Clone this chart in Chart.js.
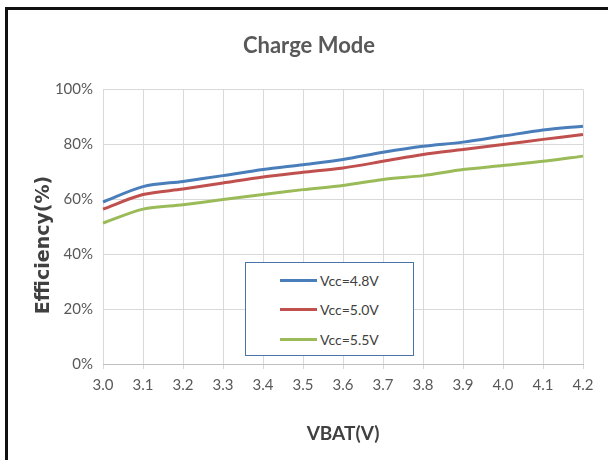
<!DOCTYPE html>
<html>
<head>
<meta charset="utf-8">
<script src="https://cdn.jsdelivr.net/npm/chart.js@4.4.1/dist/chart.umd.min.js"></script>
<style>
  html, body { margin: 0; padding: 0; background: #fff; }
  #wrap { position: relative; width: 608px; height: 460px; overflow: hidden; }
  #grafico { position: absolute; left: 0; top: 0; }
  #marco {
    position: absolute; left: 5px; top: 7px; right: -10px; bottom: -10px;
    border-top: 3px solid #111; border-left: 3px solid #111;
    pointer-events: none;
  }
  #leyenda {
    position: absolute; left: 245px; top: 262px; width: 167px; height: 92px;
    border: 1px solid #4a74a8; background: #fff;
    font-family: Lato, sans-serif;
    font-size: 14px; color: #404040;
  }
  .fila { position: absolute; left: 34px; height: 20px; display: flex; align-items: center; }
  .muestra { width: 37px; height: 3px; margin-right: 3px; }
</style>
</head>
<body>
<div id="wrap">
  <canvas id="grafico" width="608" height="460"></canvas>
  <div id="leyenda"></div>
  <div id="marco"></div>
</div>
<script>
const vbat = ['3.0', '3.1', '3.2', '3.3', '3.4', '3.5', '3.6', '3.7', '3.8', '3.9', '4.0', '4.1', '4.2'];
const vcc48 = [59.0, 64.6, 66.5, 68.6, 70.8, 72.6, 74.5, 77.1, 79.3, 80.8, 83.0, 85.2, 86.6];
const vcc50 = [56.4, 61.7, 63.7, 65.9, 68.1, 69.8, 71.4, 73.8, 76.3, 78.1, 79.9, 81.8, 83.6];
const vcc55 = [51.3, 56.4, 58.0, 59.9, 61.7, 63.5, 65.0, 67.2, 68.6, 70.8, 72.3, 73.8, 75.7];
const nombres = ['Vcc=4.8V', 'Vcc=5.0V', 'Vcc=5.5V'];
const colores = ['#4a7ebb', '#c0504d', '#9bbb59'];
const yTicks = [0, 20, 40, 60, 80, 100];

const fuenteTick = { family: 'Lato, sans-serif', size: 15 };

// titulo del eje Y dibujado a mano (va algo por debajo del centro en la imagen)
const tituloEjeY = {
    id: 'tituloEjeY',
    afterDraw(chart) {
        const ctx = chart.ctx;
        ctx.save();
        ctx.translate(44, 245);
        ctx.rotate(-Math.PI / 2);
        ctx.font = 'bold 19px "DejaVu Sans", sans-serif';
        ctx.fillStyle = '#404040';
        ctx.textAlign = 'center';
        ctx.textBaseline = 'middle';
        ctx.fillText('Efficiency(%)', 0, 0);
        ctx.restore();
    }
};

const series = [vcc48, vcc50, vcc55];

const myChart = new Chart(document.getElementById('grafico'), {
    type: 'line',
    data: {
        labels: vbat,
        datasets: series.map((s, i) => ({
            label: nombres[i],
            data: s,
            borderColor: colores[i],
            backgroundColor: colores[i],
            borderWidth: 3,
            pointRadius: 0,
            tension: 0.3,
            fill: false
        }))
    },
    options: {
        responsive: false,
        animation: false,
        layout: { padding: { left: 35, right: 25, top: 0, bottom: 0 } },
        plugins: {
            legend: { display: false },
            tooltip: { enabled: false },
            title: {
                display: true,
                text: 'Charge Mode',
                color: '#595959',
                font: { family: 'Lato, sans-serif', size: 22, weight: 'bold' },
                padding: { top: 33, bottom: 30 }
            }
        },
        scales: {
            x: {
                type: 'category',
                offset: false,
                grid: { color: '#d9d9d9', drawTicks: true, tickLength: 5 },
                border: { color: '#bfbfbf' },
                ticks: { color: '#595959', font: fuenteTick, padding: 7, maxRotation: 0, autoSkip: false },
                title: {
                    display: true,
                    text: 'VBAT(V)',
                    color: '#404040',
                    font: { family: 'Lato, sans-serif', size: 19, weight: 'bold' },
                    padding: { top: 0, bottom: 15 }
                },
                afterFit(scale) { scale.height = 96; }
            },
            y: {
                min: 0,
                max: 100,
                afterBuildTicks(scale) { scale.ticks = yTicks.map(v => ({ value: v })); },
                grid: { color: '#d9d9d9', drawTicks: false },
                border: { display: false },
                ticks: { color: '#595959', font: fuenteTick, padding: 10, callback: v => v + '%' },
                afterFit(scale) { scale.width = 68; }
            }
        }
    },
    plugins: [tituloEjeY]
});

// leyenda en html a partir de los datasets
const leyenda = document.getElementById('leyenda');
myChart.data.datasets.forEach((ds, i) => {
    const fila = document.createElement('div');
    fila.className = 'fila';
    fila.style.top = (7 + i * 29.5) + 'px';
    const muestra = document.createElement('span');
    muestra.className = 'muestra';
    muestra.style.background = ds.borderColor;
    const txt = document.createElement('span');
    txt.textContent = ds.label;
    fila.appendChild(muestra);
    fila.appendChild(txt);
    leyenda.appendChild(fila);
});
</script>
</body>
</html>
